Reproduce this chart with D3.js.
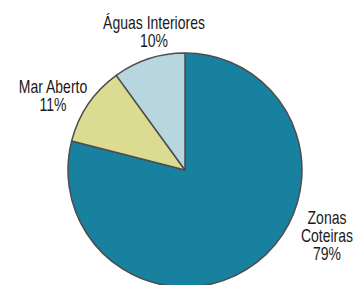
<!DOCTYPE html>
<html><head><meta charset="utf-8">
<script src="https://cdn.jsdelivr.net/npm/d3@7"></script>
<style>html,body{margin:0;padding:0;background:#fff;}svg{display:block;}</style>
</head><body>
<script>
const categories = ["Zonas Coteiras", "Mar Aberto", "Águas Interiores"];
const values = [79, 11, 10];
const labelLines = [["Zonas", "Coteiras", "79%"], ["Mar Aberto", "11%"], ["Águas Interiores", "10%"]];
const colors = ["#18819f", "#dbdb92", "#b7d6de"];

const W = 355, H = 285, cx = 185, cy = 170, R = 117;
const svg = d3.select("body").append("svg").attr("width", W).attr("height", H);
const g = svg.append("g").attr("transform", `translate(${cx},${cy})`);
const pie = d3.pie().sort(null).value(d => d)(values);
const arc = d3.arc().innerRadius(0).outerRadius(R);
g.selectAll("path").data(pie).join("path")
  .attr("d", arc)
  .attr("fill", (d, i) => colors[i])
  .attr("stroke", "#4d4d4d")
  .attr("stroke-width", 1.5)
  .attr("stroke-linejoin", "round");

const labelPos = [[327, 224], [53, 93], [154, 29]];
const lh = 18;
labelLines.forEach((lines, i) => {
  const t = svg.append("text")
    .attr("transform", `translate(${labelPos[i][0]},${labelPos[i][1]}) scale(0.8,1)`)
    .attr("text-anchor", "middle")
    .attr("font-family", "'Liberation Sans', Arial, sans-serif")
    .attr("font-size", 17.5)
    .attr("fill", "#1a1a1a");
  lines.forEach((l, j) => {
    t.append("tspan").attr("x", 0).attr("dy", j === 0 ? 0 : lh).text(l);
  });
});
</script>
</body></html>
